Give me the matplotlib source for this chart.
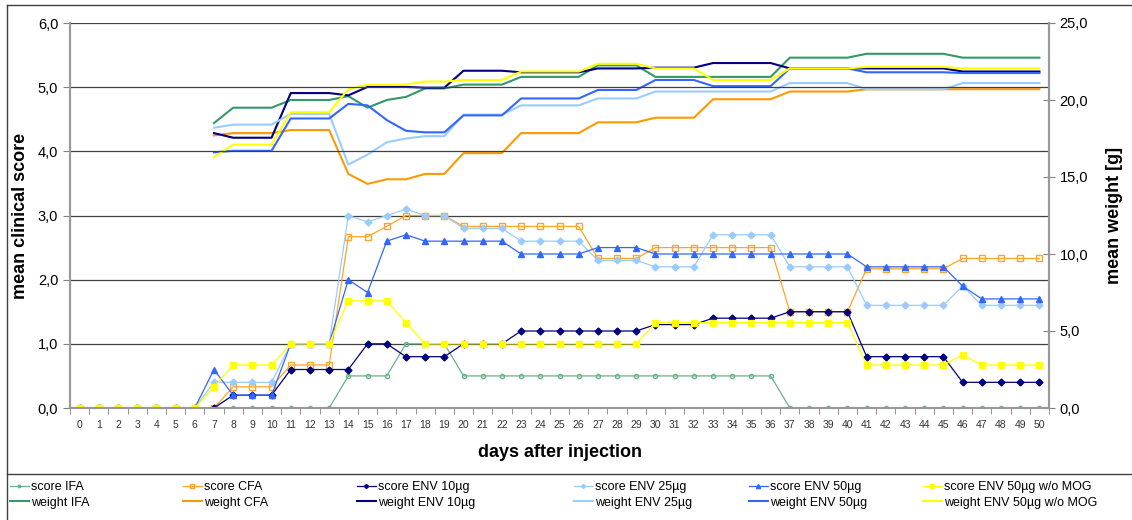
import numpy as np
import matplotlib.pyplot as plt
from matplotlib.lines import Line2D

plt.rcParams['font.family'] = ['Liberation Sans', 'DejaVu Sans']

days = list(range(51))

# clinical scores (left axis), days 0-50
score_ifa = [0]*14 + [0.5, 0.5, 0.5, 1.0, 1.0, 1.0] + [0.5]*17 + [0]*14
score_cfa = ([0]*8 + [0.33]*3 + [0.67]*3 + [2.67, 2.67, 2.83, 3.0, 3.0, 3.0]
             + [2.83]*7 + [2.33]*3 + [2.5]*7 + [1.5]*4 + [2.17]*5 + [2.33]*5)
score_env10 = ([0]*8 + [0.2]*3 + [0.6]*4 + [1.0, 1.0, 0.8, 0.8, 0.8]
               + [1.0]*3 + [1.2]*7 + [1.3]*3 + [1.4]*4 + [1.5]*4 + [0.8]*5 + [0.4]*5)
score_env25 = ([0]*7 + [0.4]*4 + [1.0]*3 + [3.0, 2.9, 3.0, 3.1, 3.0, 3.0]
               + [2.8]*3 + [2.6]*4 + [2.3]*3 + [2.2]*3 + [2.7]*4 + [2.2]*4
               + [1.6]*5 + [1.9] + [1.6]*4)
score_env50 = ([0]*7 + [0.6] + [0.2]*3 + [1.0]*3 + [2.0, 1.8, 2.6, 2.7]
               + [2.6]*5 + [2.4]*4 + [2.5]*3 + [2.4]*11 + [2.2]*5 + [1.9] + [1.7]*4)
score_mog = ([0]*7 + [0.33] + [0.67]*3 + [1.0]*3 + [1.67]*3 + [1.33]
             + [1.0]*12 + [1.33]*11 + [0.67]*5 + [0.83] + [0.67]*4)

# mean weight in g (right axis), days 7-50
wdays = list(range(7, 51))
weight_ifa = ([18.5] + [19.5]*3 + [20.0]*3 + [20.25, 19.5, 20.0, 20.2, 20.75, 20.75]
              + [21.0]*3 + [21.5]*4 + [22.25]*3 + [21.5]*7 + [22.75]*4 + [23.0]*5 + [22.75]*5)
weight_cfa = ([17.7] + [17.85]*3 + [18.05]*3 + [15.2, 14.55, 14.85, 14.85, 15.2, 15.2]
              + [16.55]*3 + [17.85]*4 + [18.55]*3 + [18.85]*3 + [20.05]*4
              + [20.55]*4 + [20.7]*10)
weight_env10 = ([17.85] + [17.55]*3 + [20.45]*3 + [20.3, 20.85, 20.85, 20.85, 20.8, 20.8]
                + [21.9]*3 + [21.8]*4 + [22.05]*3 + [22.1]*3 + [22.4]*4
                + [22.05]*4 + [22.05]*5 + [21.85]*5)
weight_env25 = ([18.2] + [18.4]*3 + [19.1]*3 + [15.8, 16.45, 17.25, 17.5, 17.65, 17.65]
                + [19.05]*3 + [19.65]*4 + [20.1]*3 + [20.55]*7 + [21.1]*4
                + [20.7]*5 + [21.1]*5)
weight_env50 = ([16.6] + [16.7]*3 + [18.8]*3 + [19.75, 19.65, 18.7, 18.0, 17.9, 17.9]
                + [19.0]*3 + [20.1]*4 + [20.65]*3 + [21.3]*3 + [20.9]*4
                + [22.05]*4 + [21.8]*5 + [21.75]*5)
weight_mog = ([16.3] + [17.1]*3 + [19.2]*3 + [20.7, 21.0, 21.0, 21.0, 21.2, 21.2]
              + [21.3]*3 + [21.85]*4 + [22.35]*3 + [22.05]*3 + [21.3]*4
              + [22.05]*4 + [22.15]*5 + [22.05]*5)

fig = plt.figure(figsize=(11.32, 5.2), dpi=100)
ax = fig.add_axes([70/1132, 1 - 408/520, 979/1132, 385/520])
ax2 = ax.twinx()

# weights first so they sit behind the score lines
w_styles = [
    (weight_ifa, '#339966', 'weight IFA'),
    (weight_cfa, '#FF9900', 'weight CFA'),
    (weight_env10, '#000080', 'weight ENV 10µg'),
    (weight_env25, '#99CCFF', 'weight ENV 25µg'),
    (weight_env50, '#3366FF', 'weight ENV 50µg'),
    (weight_mog, '#FFFF00', 'weight ENV 50µg w/o MOG'),
]
w_handles = []
for vals, c, lab in w_styles:
    h, = ax2.plot(wdays, vals, color=c, lw=1.5, label=lab)
    w_handles.append(h)

s_styles = [
    (score_ifa, '#66B38A', 'o', 'none', 3, 'score IFA'),
    (score_cfa, '#FFA528', 's', 'none', 4, 'score CFA'),
    (score_env10, '#000080', 'D', '#000080', 3.5, 'score ENV 10µg'),
    (score_env25, '#99CCFF', 'D', '#99CCFF', 3.5, 'score ENV 25µg'),
    (score_env50, '#3366FF', '^', '#3366FF', 5, 'score ENV 50µg'),
    (score_mog, '#FFFF00', 's', '#FFFF00', 4.2, 'score ENV 50µg w/o MOG'),
]
s_handles = []
for vals, c, m, fc, ms, lab in s_styles:
    h, = ax.plot(days, vals, color=c, lw=0.9, marker=m, mfc=fc, mec=c,
                 ms=ms, label=lab)
    s_handles.append(h)

ax.set_zorder(ax2.get_zorder() + 1)
ax.patch.set_visible(False)

ax.set_xlim(-0.5, 50.5)
ax.set_ylim(0, 6)
ax2.set_ylim(0, 25)

ax.set_yticks(np.arange(0, 7, 1))
ax.set_yticklabels([f'{v:.1f}'.replace('.', ',') for v in range(7)], fontsize=10.5)
ax2.set_yticks(np.arange(0, 26, 5))
ax2.set_yticklabels([f'{v:.1f}'.replace('.', ',') for v in range(0, 26, 5)], fontsize=10.5)
ax.set_xticks(days)
ax.set_xticklabels([str(d) for d in days], fontsize=7.5, color='#333333')
ax.set_xticks(np.arange(-0.5, 51, 1), minor=True)
ax.tick_params(axis='x', which='major', length=0, pad=9)
ax.tick_params(axis='x', which='minor', length=4, color='#808080')
ax.tick_params(axis='y', length=5, color='#808080')
ax2.tick_params(axis='y', length=8, direction='inout', color='#808080')

ax.grid(axis='y', color='#404040', lw=0.9)
for a in (ax, ax2):
    a.spines['top'].set_visible(False)
    for s in ('left', 'right', 'bottom'):
        a.spines[s].set_color('#999999')
        a.spines[s].set_linewidth(1.5)

ax.set_ylabel('mean clinical score', fontsize=13, fontweight='bold', labelpad=6)
ax2.set_ylabel('mean weight [g]', fontsize=13, fontweight='bold', labelpad=13)
ax.set_xlabel('days after injection', fontsize=13, fontweight='bold', labelpad=10)

# chart frame and legend separator
fig.add_artist(Line2D([7/1132, 1], [1 - 5/520]*2, color='#404040', lw=1))
fig.add_artist(Line2D([7/1132]*2, [0, 1 - 5/520], color='#404040', lw=1))
fig.add_artist(Line2D([7/1132, 1], [1 - 474/520]*2, color='#404040', lw=1))

# one small legend per column, placed like the original
col_x = [10, 183, 357, 574, 749, 923]
for x, s, w in zip(col_x, s_handles, w_handles):
    fig.legend(handles=[s, w], loc='upper left',
               bbox_to_anchor=(x/1132, 1 - 481/520), frameon=False,
               fontsize=9, handlelength=1.5, handletextpad=0.2,
               labelspacing=0.3, markerscale=0.6, borderpad=0,
               borderaxespad=0)

fig.savefig('out.png', dpi=100)
